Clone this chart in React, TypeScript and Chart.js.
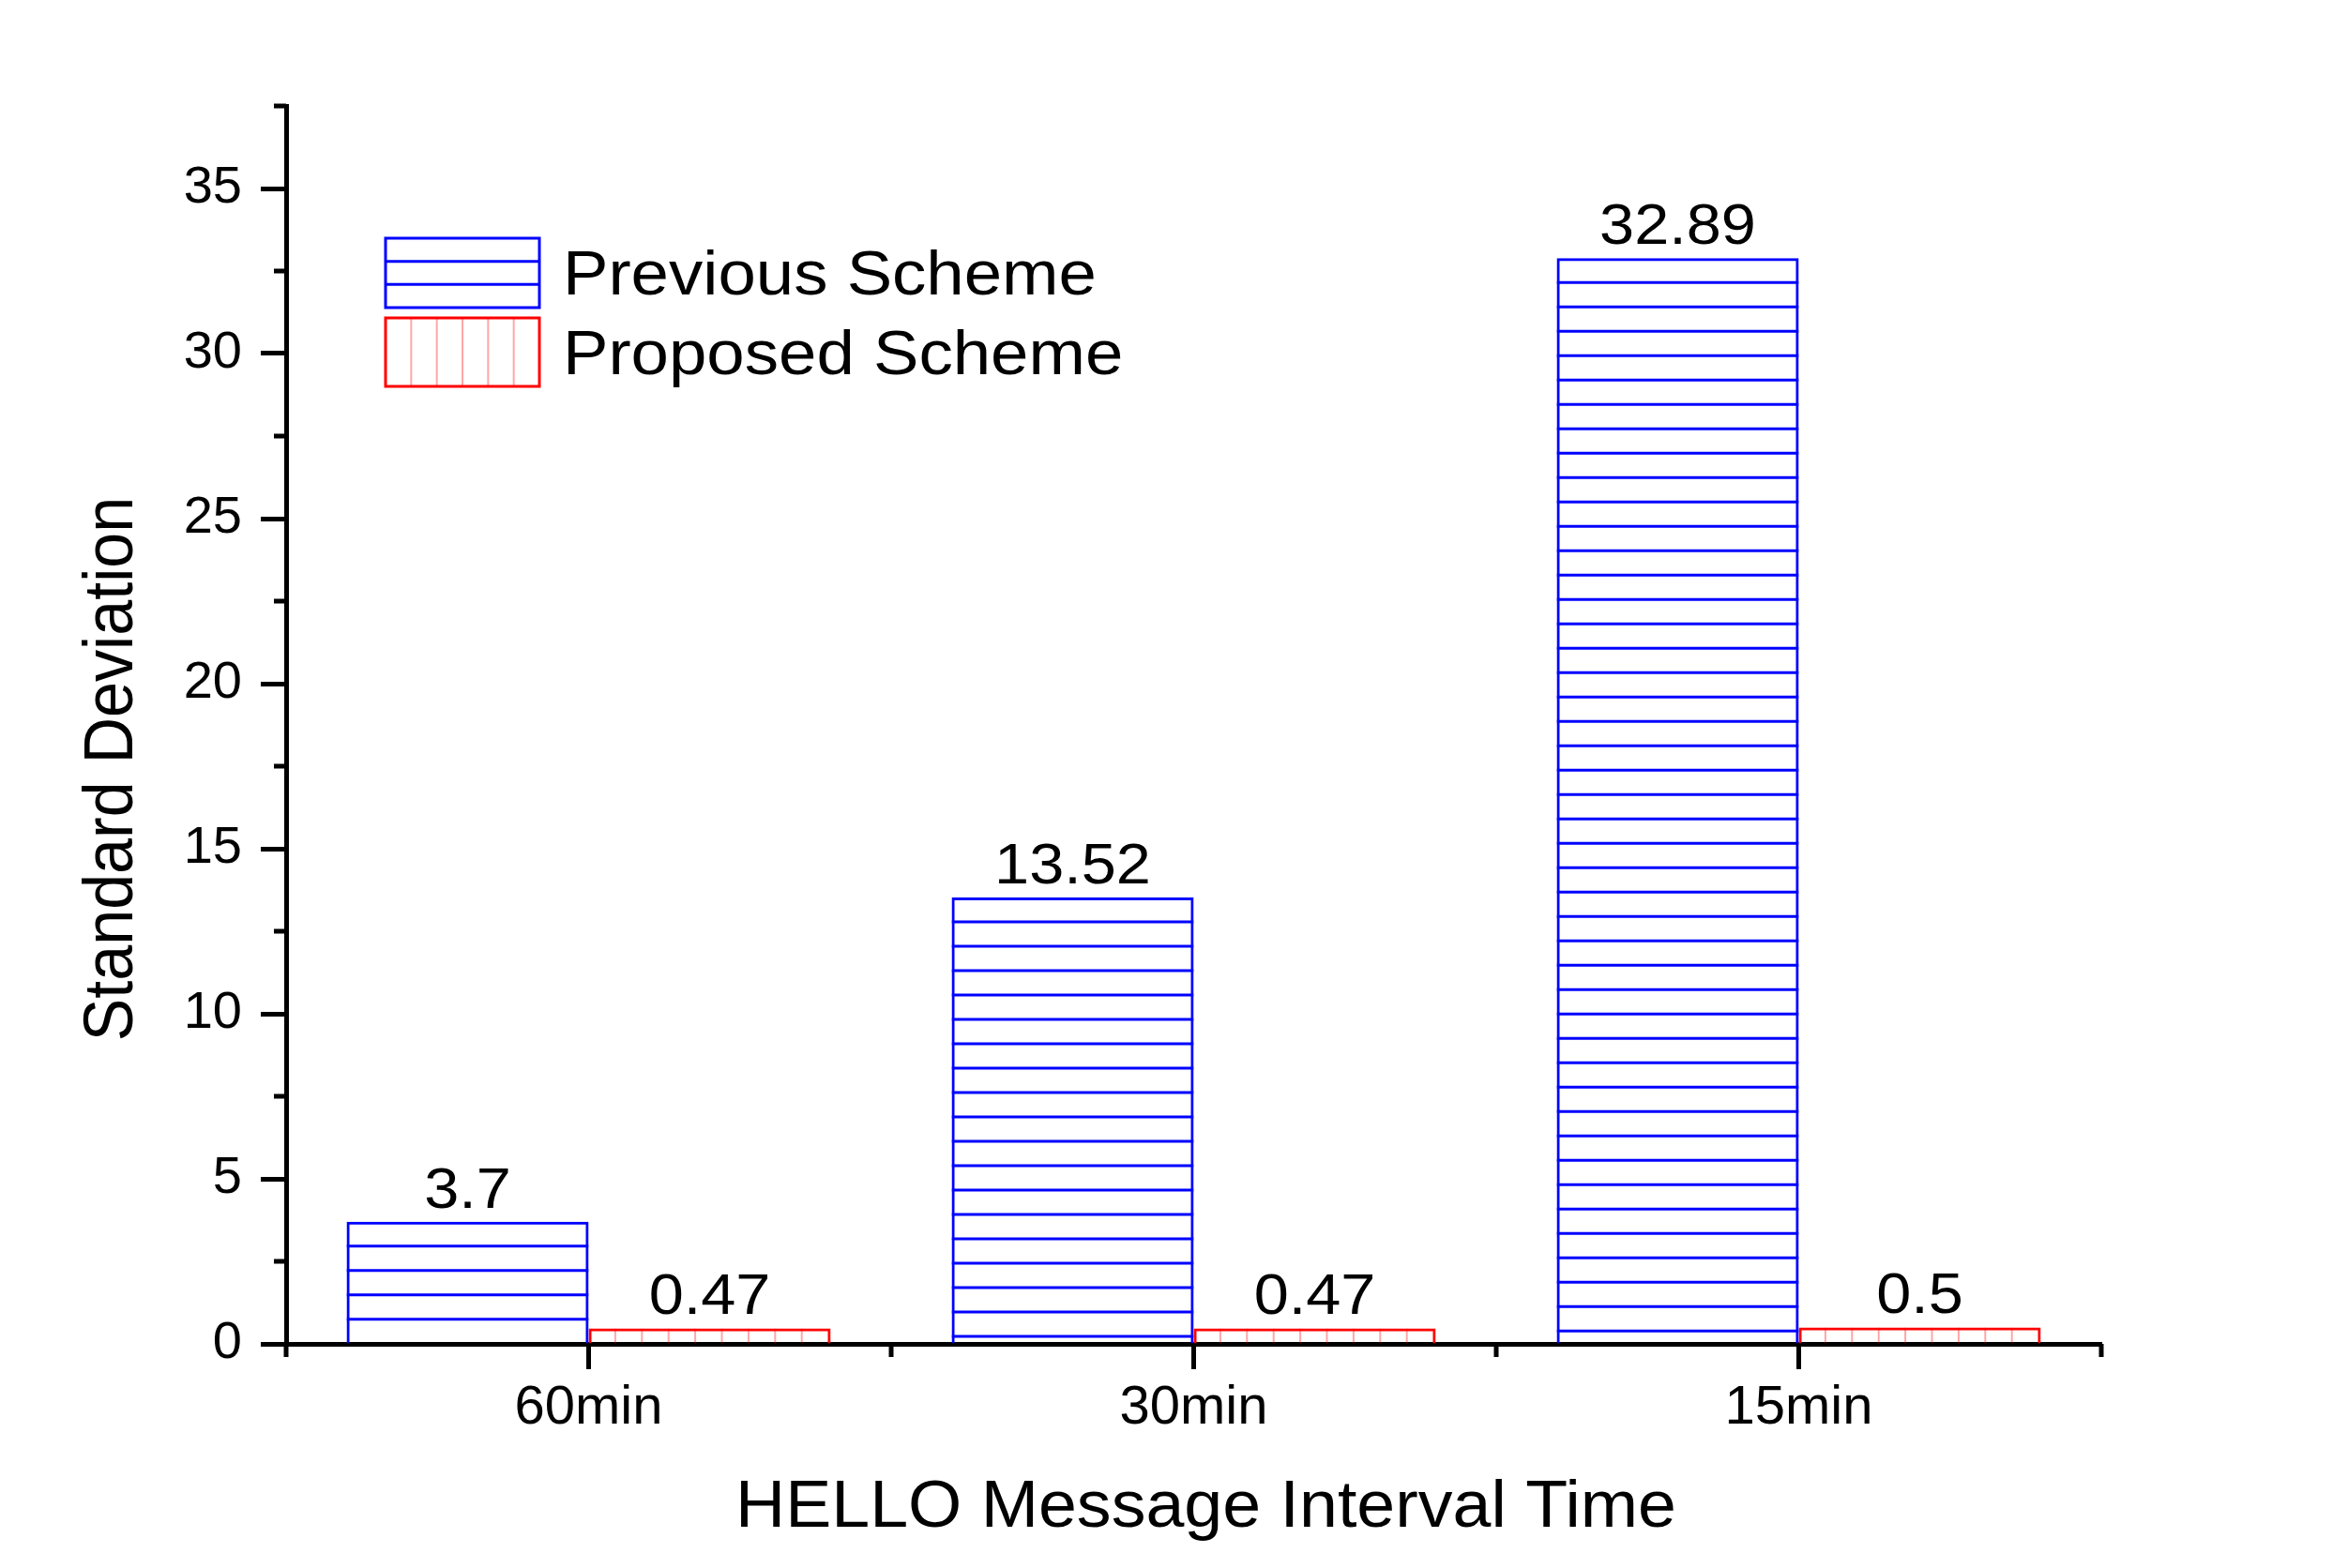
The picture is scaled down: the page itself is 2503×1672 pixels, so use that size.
import React, { useEffect, useRef } from "react";
import { Chart, registerables } from "chart.js";

Chart.register(...registerables);

// ---- data ----
const categories = ["60min", "30min", "15min"];
const previousScheme = [3.7, 13.52, 32.89];
const proposedScheme = [0.47, 0.47, 0.5];
const seriesNames = ["Previous Scheme", "Proposed Scheme"];
const yTickValues = [0, 5, 10, 15, 20, 25, 30, 35];
const yMinorValues = [2.5, 7.5, 12.5, 17.5, 22.5, 27.5, 32.5, 37.5];
const yMax = 37.5;
const xTitle = "HELLO Message Interval Time";
const yTitle = "Standard Deviation";

const W = 2503;
const H = 1672;
const FONT = '"Liberation Sans", Arial, Helvetica, sans-serif';
const BLUE = "#0000ff";
const RED = "#ff0000";
const PINK = "rgba(255,0,0,0.35)";

function stretchedText(ctx: any, text: string, x: number, y: number, size: number, sx: number, align: string) {
  ctx.save();
  ctx.translate(x, y);
  ctx.scale(sx, 1);
  ctx.font = `${size}px ${FONT}`;
  ctx.textAlign = align;
  ctx.textBaseline = "alphabetic";
  ctx.fillStyle = "#000";
  ctx.fillText(text, 0, 0);
  ctx.restore();
}

const hatchAndLabels = {
  id: "hatchAndLabels",
  afterDatasetsDraw(chart: any) {
    const ctx = chart.ctx;
    chart.data.datasets.forEach((ds: any, i: number) => {
      const meta = chart.getDatasetMeta(i);
      meta.data.forEach((bar: any, j: number) => {
        const { x, y, base, width } = bar.getProps(["x", "y", "base", "width"], true);
        const left = x - width / 2;
        const right = x + width / 2;
        const top = Math.min(y, base);
        const bottom = Math.max(y, base);
        ctx.save();
        ctx.beginPath();
        ctx.rect(left, top, right - left, bottom - top);
        ctx.clip();
        ctx.beginPath();
        if (ds.hatch === "h") {
          for (let yy = top + 26; yy < bottom - 4; yy += 26) {
            ctx.moveTo(left, yy);
            ctx.lineTo(right, yy);
          }
          ctx.strokeStyle = BLUE;
          ctx.lineWidth = 3;
        } else {
          for (let xx = left + 28.4; xx < right - 6; xx += 28.4) {
            ctx.moveTo(xx, top);
            ctx.lineTo(xx, bottom);
          }
          ctx.strokeStyle = PINK;
          ctx.lineWidth = 2;
        }
        ctx.stroke();
        ctx.restore();

        // value label
        stretchedText(ctx, String(ds.data[j]), x, top - 15, 62, 1.075, "center");
      });
    });
  },
};

const decorations = {
  id: "decorations",
  afterDraw(chart: any) {
    const ctx = chart.ctx;
    const ys = chart.scales.y;
    const xs = chart.scales.x;
    const area = chart.chartArea;
    ctx.save();
    ctx.strokeStyle = "#000";
    ctx.lineWidth = 5;
    // y minor ticks
    ctx.beginPath();
    yMinorValues.forEach((v) => {
      const py = ys.getPixelForValue(v);
      ctx.moveTo(area.left - 13, py);
      ctx.lineTo(area.left, py);
    });
    // x minor ticks at category boundaries
    const n = categories.length;
    for (let k = 0; k <= n; k++) {
      const px = xs.getPixelForValue(k - 0.5);
      ctx.moveTo(px, area.bottom);
      ctx.lineTo(px, area.bottom + 14);
    }
    ctx.stroke();

    // axis titles
    stretchedText(ctx, xTitle, (area.left + area.right) / 2 + 13, 1628, 71, 1.036, "center");

    ctx.save();
    ctx.translate(141, 820);
    ctx.rotate(-Math.PI / 2);
    ctx.scale(0.975, 1.06);
    ctx.font = `70px ${FONT}`;
    ctx.fillStyle = "#000";
    ctx.textAlign = "center";
    ctx.textBaseline = "alphabetic";
    ctx.fillText(yTitle, 0, 0);
    ctx.restore();

    // legend
    const bx = 411;
    const bw = 164;
    const boxes = [
      { y: 254, h: 74 },
      { y: 339, h: 73 },
    ];
    chart.data.datasets.forEach((ds: any, i: number) => {
      const b = boxes[i];
      ctx.save();
      ctx.beginPath();
      if (ds.hatch === "h") {
        for (let k = 1; k < 3; k++) {
          const yy = b.y + (b.h * k) / 3;
          ctx.moveTo(bx, yy);
          ctx.lineTo(bx + bw, yy);
        }
        ctx.strokeStyle = BLUE;
        ctx.lineWidth = 3;
      } else {
        for (let k = 1; k < 6; k++) {
          const xx = bx + (bw * k) / 6;
          ctx.moveTo(xx, b.y);
          ctx.lineTo(xx, b.y + b.h);
        }
        ctx.strokeStyle = PINK;
        ctx.lineWidth = 2;
      }
      ctx.stroke();
      ctx.strokeStyle = ds.borderColor;
      ctx.lineWidth = 3;
      ctx.strokeRect(bx, b.y, bw, b.h);
      ctx.restore();
      stretchedText(ctx, ds.label, 600, b.y + b.h / 2 + 23, 66, 1.1, "left");
    });
    ctx.restore();
  },
};

export default function App() {
  const ref = useRef<HTMLCanvasElement>(null);
  useEffect(() => {
    const chart = new Chart(ref.current as HTMLCanvasElement, {
      type: "bar",
      data: {
        labels: categories,
        datasets: [
          {
            label: seriesNames[0],
            data: previousScheme,
            backgroundColor: "rgba(0,0,0,0)",
            borderColor: BLUE,
            borderWidth: 3,
            hatch: "h",
          } as any,
          {
            label: seriesNames[1],
            data: proposedScheme,
            backgroundColor: "rgba(0,0,0,0)",
            borderColor: RED,
            borderWidth: 3,
            hatch: "v",
          } as any,
        ],
      },
      options: {
        responsive: false,
        animation: false,
        devicePixelRatio: 1,
        layout: { padding: { top: 113, right: 263, left: 0, bottom: 0 } },
        datasets: { bar: { categoryPercentage: 0.8, barPercentage: 1.0 } },
        plugins: { legend: { display: false }, tooltip: { enabled: false } },
        scales: {
          x: {
            type: "category",
            offset: true,
            z: 1,
            grid: {
              offset: false,
              drawOnChartArea: false,
              drawTicks: true,
              tickLength: 27,
              tickWidth: 5,
              tickColor: "#000",
            },
            border: { display: true, color: "#000", width: 5 },
            ticks: {
              color: "#000",
              font: { family: FONT, size: 58 },
              padding: 7,
              maxRotation: 0,
            },
            afterFit: (scale: any) => {
              scale.height = 239;
            },
          },
          y: {
            type: "linear",
            min: 0,
            max: yMax,
            z: 1,
            grid: {
              drawOnChartArea: false,
              drawTicks: true,
              tickLength: 27,
              tickWidth: 5,
              tickColor: "#000",
            },
            border: { display: true, color: "#000", width: 5 },
            ticks: {
              color: "#000",
              font: { family: FONT, size: 56 },
              padding: 20,
            },
            afterBuildTicks: (scale: any) => {
              scale.ticks = yTickValues.map((v) => ({ value: v }));
            },
            afterFit: (scale: any) => {
              scale.width = 305;
            },
          },
        },
      } as any,
      plugins: [hatchAndLabels, decorations],
    });
    return () => chart.destroy();
  }, []);
  return (
    <div style={{ position: "absolute", left: 0, top: 0, width: W, height: H, background: "#fff" }}>
      <canvas ref={ref} width={W} height={H} style={{ display: "block", width: W, height: H }} />
    </div>
  );
}
